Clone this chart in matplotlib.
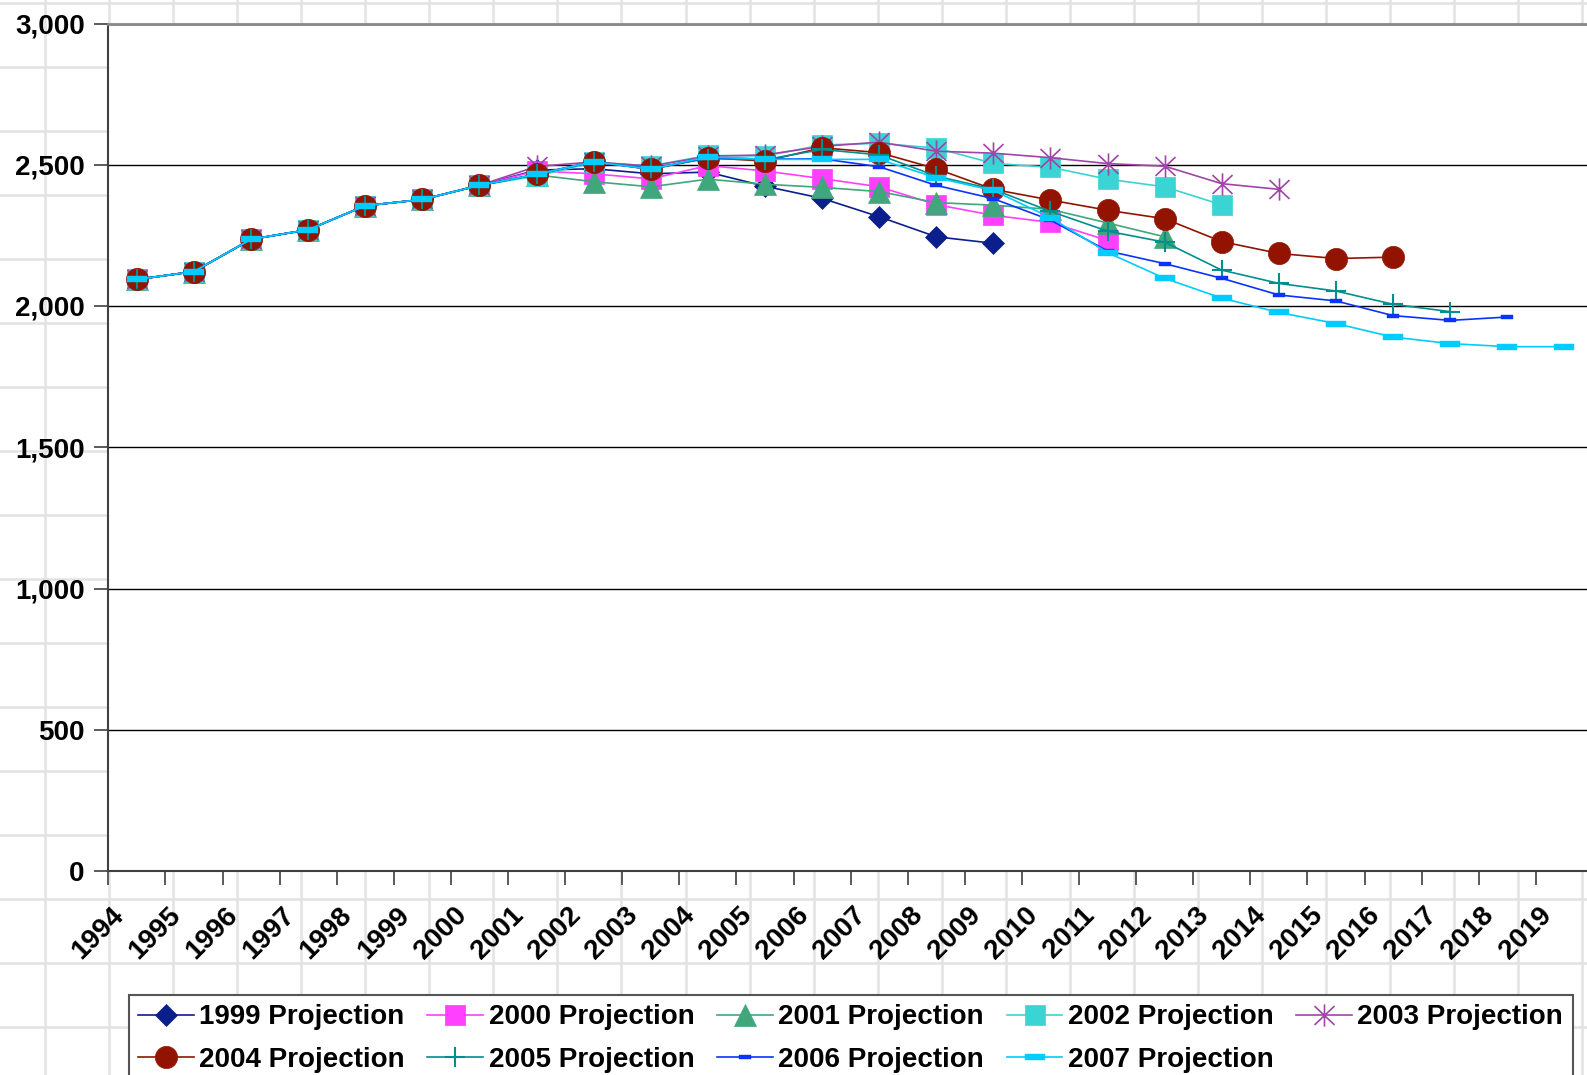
import numpy as np
import matplotlib.pyplot as plt
import matplotlib.transforms as mtransforms
from matplotlib.path import Path

plt.rcParams['font.family'] = ['Liberation Sans', 'DejaVu Sans']
plt.rcParams['font.weight'] = 'bold'

####################################################################################################
# data

years = [str(y) for y in range(1994, 2020)]

history = [2094, 2122, 2236, 2270, 2355, 2377, 2427]  # 1994 - 2000, shared by all series

proj_1999 = history + [2481, 2486, 2468, 2474, 2424, 2381, 2316, 2245, 2222]
proj_2000 = history + [2478, 2468, 2450, 2497, 2478, 2451, 2422, 2359, 2321, 2296, 2232]
proj_2001 = history + [2464, 2440, 2422, 2449, 2431, 2420, 2405, 2366, 2357, 2342, 2294, 2245]
proj_2002 = history + [2460, 2508, 2496, 2533, 2531, 2570, 2576, 2559, 2505, 2491, 2449, 2422,
                       2358]
proj_2003 = history + [2494, 2510, 2495, 2530, 2535, 2565, 2580, 2548, 2541, 2525, 2504, 2495,
                       2433, 2413]
proj_2004 = history + [2466, 2511, 2484, 2525, 2513, 2560, 2543, 2486, 2413, 2375, 2339, 2309,
                       2228, 2186, 2168, 2173]
proj_2005 = history + [2466, 2510, 2488, 2522, 2518, 2554, 2535, 2460, 2413, 2335, 2265, 2226,
                       2127, 2080, 2053, 2006, 1980]
proj_2006 = history + [2466, 2511, 2484, 2526, 2520, 2521, 2493, 2427, 2380, 2304, 2195, 2150,
                       2098, 2039, 2018, 1966, 1949, 1961]
proj_2007 = history + [2466, 2511, 2484, 2528, 2519, 2519, 2519, 2454, 2409, 2313, 2189, 2098,
                       2028, 1977, 1938, 1890, 1867, 1856, 1856]

####################################################################################################
# Excel like markers

asterisk = Path([(0, -1), (0, 1), (-0.9, -0.85), (0.9, 0.85), (-0.9, 0.85), (0.9, -0.85)],
                [Path.MOVETO, Path.LINETO, Path.MOVETO, Path.LINETO, Path.MOVETO, Path.LINETO])
dash_small = Path([(-1, -0.4), (1, -0.4), (1, 0.4), (-1, 0.4), (-1, -0.4)])
dash_wide = Path([(-1, -0.27), (1, -0.27), (1, 0.27), (-1, 0.27), (-1, -0.27)])

series = [
    ('1999 Projection', proj_1999, '#0A1E8C', 'D', 11.5, 0.5),
    ('2000 Projection', proj_2000, '#FF40FF', 's', 15, 0.5),
    ('2001 Projection', proj_2001, '#40A67C', '^', 16.5, 0.5),
    ('2002 Projection', proj_2002, '#3AD4D4', 's', 15, 0.5),
    ('2003 Projection', proj_2003, '#A044A8', asterisk, 16, 1.2),
    ('2004 Projection', proj_2004, '#921400', 'o', 16, 0.5),
    ('2005 Projection', proj_2005, '#008E8E', '+', 15, 1.5),
    ('2006 Projection', proj_2006, '#0A33FF', dash_small, 8, 0.3),
    ('2007 Projection', proj_2007, '#00CCFF', dash_wide, 14.5, 0.3),
]

FONT_SIZE = 20

####################################################################################################

W, H = 1587, 1075
figure = plt.figure(figsize=(W / 100, H / 100), dpi=100)

# spreadsheet cells behind the chart
ax_bg = figure.add_axes([0, 0, 1, 1], zorder=0)
ax_bg.set_xlim(0, W)
ax_bg.set_ylim(H, 0)
ax_bg.axis('off')
for x in np.arange(45, W, 64.05):
    ax_bg.axvline(x, color='#e3e3e3', lw=1.8)
for y in np.arange(3, H, 64):
    ax_bg.axhline(y, color='#e3e3e3', lw=1.8)

# plot area (runs a little past the right edge, like the original)
left, right, top, bottom = 108.3, 108.3 + 26 * 57.1, 23.5, 871
ax = figure.add_axes([left / W, 1 - bottom / H, (right - left) / W, (bottom - top) / H], zorder=1)
ax.set_facecolor('white')

handles = []
for label, values, color, marker, size, mew in series:
    line, = ax.plot(np.arange(len(values)), values, color=color, lw=1.2,
                    marker=marker, markersize=size, markerfacecolor=color,
                    markeredgecolor=color, markeredgewidth=mew, label=label)
    handles.append(line)

ax.set_xlim(-0.5, len(years) - 0.5)
ax.set_ylim(0, 3000)
ax.set_yticks(np.arange(0, 3001, 500))
ax.set_yticklabels(['{:,}'.format(v) for v in range(0, 3001, 500)],
                   fontsize=FONT_SIZE, fontweight='bold')
ax.yaxis.grid(True, color='black', lw=1.0)
ax.set_axisbelow(True)
ax.tick_params(axis='y', length=10, width=1.2, color='#404040', pad=7)

ax.set_xticks(np.arange(len(years)))
ax.set_xticklabels(years, rotation=45, ha='right', va='center', rotation_mode='anchor',
                   fontsize=FONT_SIZE, fontweight='bold')
ax.tick_params(axis='x', which='major', length=0, pad=29)
ax.set_xticks(np.arange(-0.5, len(years)), minor=True)
ax.tick_params(axis='x', which='minor', length=10, width=1.2, color='#404040')
shift = mtransforms.ScaledTranslation(-17 / 100, 0, figure.dpi_scale_trans)
for tick_label in ax.get_xticklabels():
    tick_label.set_transform(tick_label.get_transform() + shift)

for side in ('left', 'bottom'):
    ax.spines[side].set_color('#404040')
    ax.spines[side].set_linewidth(1.5)
ax.spines['top'].set_color('#888888')
ax.spines['top'].set_linewidth(2)
ax.spines['right'].set_visible(False)

# Excel fills the legend row by row, matplotlib column by column
order = [0, 5, 1, 6, 2, 7, 3, 8, 4]
legend = figure.legend([handles[i] for i in order], [series[i][0] for i in order],
                       loc='upper left', bbox_to_anchor=(128.5 / W, 1 - 995 / H),
                       ncol=5, frameon=True, fancybox=False, shadow=False,
                       edgecolor='#555555', facecolor='white', framealpha=1,
                       prop={'size': FONT_SIZE, 'weight': 'bold'},
                       handlelength=2.0, handletextpad=0.2, columnspacing=0.82,
                       borderpad=0.34, labelspacing=0.6, borderaxespad=0)
legend.get_frame().set_linewidth(1.5)

figure.savefig('out.png', dpi=100)
